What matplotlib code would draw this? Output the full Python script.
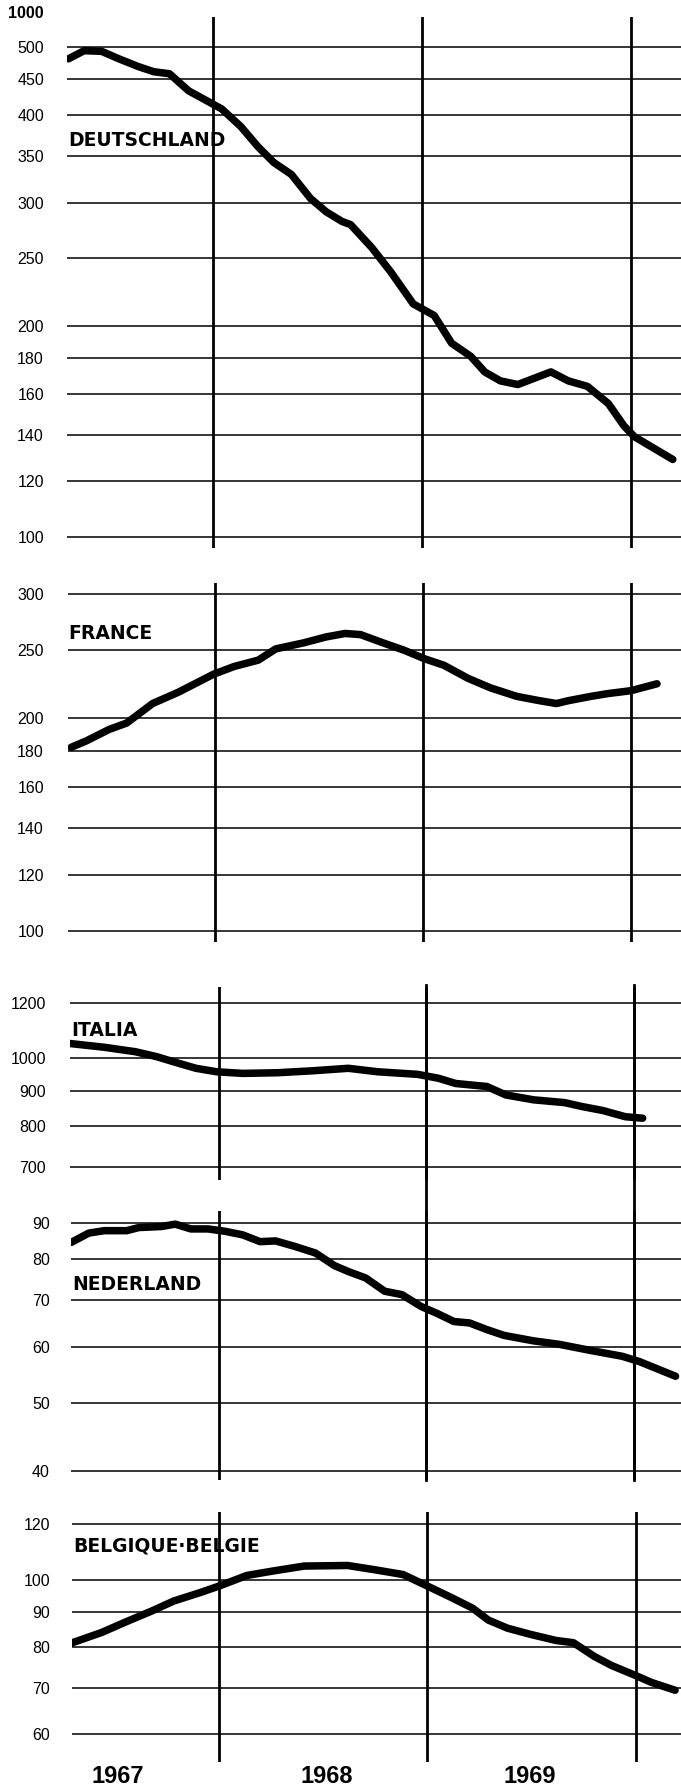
import numpy as np
import matplotlib
matplotlib.use("Agg")
import matplotlib.pyplot as plt
from matplotlib import font_manager as fm
from matplotlib.ticker import NullLocator

# ---------------- data (month index: 0 = start of 1967) ----------------
de_months = [3.7, 4.6, 5.6, 6.6, 7.7, 8.6, 9.5, 10.6, 11.5, 12.5, 13.6, 14.6, 15.5, 16.5,
             17.6, 18.5, 19.4, 19.9, 21.1, 22.2, 23.5, 24.7, 25.7, 26.8, 27.6, 28.5, 29.5,
             31.4, 32.4, 33.5, 34.7, 35.6, 36.2, 38.4]
de_values = [481, 494, 493, 481, 469, 461, 458, 433, 421, 408, 385, 360, 342, 329,
             304, 291, 282, 279, 259, 239, 215, 207, 189, 181, 172, 167, 165,
             172, 167, 164, 155, 144, 139, 129]

fr_months = [3.7, 4.6, 5.9, 6.9, 8.4, 9.9, 11.9, 13.1, 14.5, 15.5, 17.1, 18.4, 19.5, 20.4,
             21.7, 22.9, 24.1, 25.2, 26.6, 27.9, 29.4, 30.7, 31.7, 32.4, 33.7, 34.7, 36.0, 37.5]
fr_values = [182, 186, 193, 197, 210, 218, 231, 237, 242, 251, 256, 261, 264, 263,
             256, 250, 243, 238, 228, 221, 215, 212, 210, 212, 215, 217, 219, 224]

it_months = [3.4, 5.4, 7.2, 8.4, 9.7, 10.7, 11.9, 13.4, 15.4, 17.4, 19.5, 21.2, 23.5, 24.7,
             25.7, 27.5, 28.6, 30.2, 32.0, 33.0, 34.2, 35.5, 36.5]
it_values = [1050, 1037, 1022, 1006, 984, 968, 957, 952, 954, 960, 968, 957, 949, 937,
             921, 912, 887, 873, 865, 854, 843, 826, 822]

nl_months = [3.5, 4.5, 5.4, 6.7, 7.4, 8.7, 9.5, 10.4, 11.4, 12.4, 13.4, 14.4, 15.3, 16.4,
             17.6, 18.7, 19.5, 20.5, 21.6, 22.6, 23.7, 24.6, 25.6, 26.5, 27.5, 28.5, 30.2,
             31.7, 33.5, 35.3, 36.3, 38.4]
nl_values = [84.5, 87.1, 87.8, 87.8, 88.7, 89.0, 89.7, 88.3, 88.3, 87.6, 86.6, 84.7, 84.9, 83.4,
             81.6, 78.3, 76.8, 75.2, 72.0, 71.2, 68.5, 67.0, 65.2, 64.9, 63.5, 62.3, 61.2,
             60.5, 59.3, 58.2, 57.2, 54.5]

be_months = [3.5, 5.25, 6.6, 8.1, 9.4, 10.9, 12.0, 13.6, 15.1, 16.9, 19.4, 21.1, 22.6, 24.0,
             25.4, 26.6, 27.5, 28.6, 29.9, 31.4, 32.4, 33.6, 34.6, 35.9, 36.9, 38.25]
be_values = [81.1, 84.0, 86.9, 90.1, 93.2, 95.8, 97.9, 101.4, 102.9, 104.6, 104.8, 103.2, 101.7, 97.9,
             94.2, 91.0, 87.5, 85.2, 83.5, 81.8, 81.2, 77.6, 75.3, 73.0, 71.2, 69.4]

de_ticks = [100, 120, 140, 160, 180, 200, 250, 300, 350, 400, 450, 500]
fr_ticks = [100, 120, 140, 160, 180, 200, 250, 300]
it_ticks = [700, 800, 900, 1000, 1200]
nl_ticks = [40, 50, 60, 70, 80, 90]
be_ticks = [60, 70, 80, 90, 100, 120]

country_names = ["DEUTSCHLAND", "FRANCE", "ITALIA", "NEDERLAND", "BELGIQUE\u00b7BELGIE"]
year_boundaries = [12, 24, 36]
year_labels = ["1967", "1968", "1969"]
year_label_pos = [6.2, 18.2, 29.9]
top_label = "1000"

# ---------------- fonts ----------------
avail = {f.name for f in fm.fontManager.ttflist}
base_font = "Liberation Sans" if "Liberation Sans" in avail else "DejaVu Sans"
narrow_font = "Liberation Sans Narrow" if "Liberation Sans Narrow" in avail else base_font
plt.rcParams["font.family"] = [base_font, "DejaVu Sans"]

W, H = 681, 1791
fig = plt.figure(figsize=(W / 100, H / 100), dpi=100)
fig.patch.set_facecolor("white")

# layout: left px, first/third vertical px, top px, bottom px, anchor value/px, px per decade,
# tick label right edge px, title baseline px
panels = [
    dict(m=de_months, v=de_values, ticks=de_ticks, name=country_names[0],
         L=67, v1=213, v3=631, T=17, B=548, av=100, ap=537, ppd=701, lab=44, tb=146),
    dict(m=fr_months, v=fr_values, ticks=fr_ticks, name=country_names[1],
         L=67.5, v1=215, v3=631, T=583, B=942, av=100, ap=930.7, ppd=705, lab=44, tb=639),
    dict(m=it_months, v=it_values, ticks=it_ticks, name=country_names[2],
         L=70, v1=218.5, v3=634, T=987, B=1180, av=1200, ap=1002.7, ppd=703, lab=46, tb=1036),
    dict(m=nl_months, v=nl_values, ticks=nl_ticks, name=country_names[3],
         L=71, v1=218.5, v3=634, T=1211, B=1480, av=40, ap=1470.7, ppd=703, lab=50, tb=1290),
    dict(m=be_months, v=be_values, ticks=be_ticks, name=country_names[4],
         L=72, v1=219, v3=636, T=1512, B=1762, av=60, ap=1734.3, ppd=697, lab=50, tb=1551),
]

axes = []
for i, p in enumerate(panels):
    rect = [p["L"] / W, 1 - p["B"] / H, (W - p["L"]) / W, (p["B"] - p["T"]) / H]
    ax = fig.add_axes(rect)
    ax.set_facecolor("none")
    pxm = (p["v3"] - p["v1"]) / 24.0
    ax.set_xlim(12 + (p["L"] - p["v1"]) / pxm, 12 + (W - p["v1"]) / pxm)
    ax.set_yscale("log")
    ytop = p["av"] * 10 ** ((p["ap"] - p["T"]) / p["ppd"])
    ybot = p["av"] * 10 ** ((p["ap"] - p["B"]) / p["ppd"])
    ax.set_ylim(ybot, ytop)

    ax.plot(p["m"], p["v"], color="black", lw=5.4, solid_joinstyle="round",
            solid_capstyle="round", zorder=3)

    ax.set_yticks(p["ticks"], labels=[str(t) for t in p["ticks"]])
    ax.yaxis.set_minor_locator(NullLocator())
    pad_pt = (p["L"] - p["lab"]) * 72 / 100
    ax.tick_params(axis="y", length=0, pad=pad_pt, labelsize=11.5, labelcolor="black")
    ax.grid(axis="y", color="black", lw=1.1)
    ax.grid(axis="x", visible=False)
    for s in ax.spines.values():
        s.set_visible(False)
    for yb in year_boundaries:
        ax.axvline(yb, color="black", lw=2.0, zorder=2)

    fig.text(p["L"] / W + 1 / W, 1 - p["tb"] / H, p["name"], fontsize=13.5,
             fontweight="bold", family="DejaVu Sans", va="baseline", ha="left")
    axes.append((ax, p))

# x labels: only bottom panel shows the years
for ax, p in axes[:-1]:
    ax.set_xticks([])
ax_be, p_be = axes[-1]
ax_be.set_xticks(year_label_pos, labels=year_labels)
ax_be.tick_params(axis="x", length=0, pad=2.5, labelsize=17)
for lbl in ax_be.get_xticklabels():
    lbl.set_fontweight("bold")
    lbl.set_family(narrow_font)

# second and third year lines run continuously from ITALIA through NEDERLAND
ax_nl, p_nl = axes[3]
ext = (p_nl["B"] - 985) / (p_nl["B"] - p_nl["T"])
for yb in year_boundaries[1:]:
    ax_nl.axvline(yb, ymin=0, ymax=ext, color="black", lw=2.0, clip_on=False, zorder=2)

# "1000" marker at the top of the first scale
fig.text(44 / W, 1 - 14 / H, top_label, ha="right", va="center", fontsize=11.5,
         fontweight="bold")

fig.savefig("out.png", dpi=100, facecolor="white")
